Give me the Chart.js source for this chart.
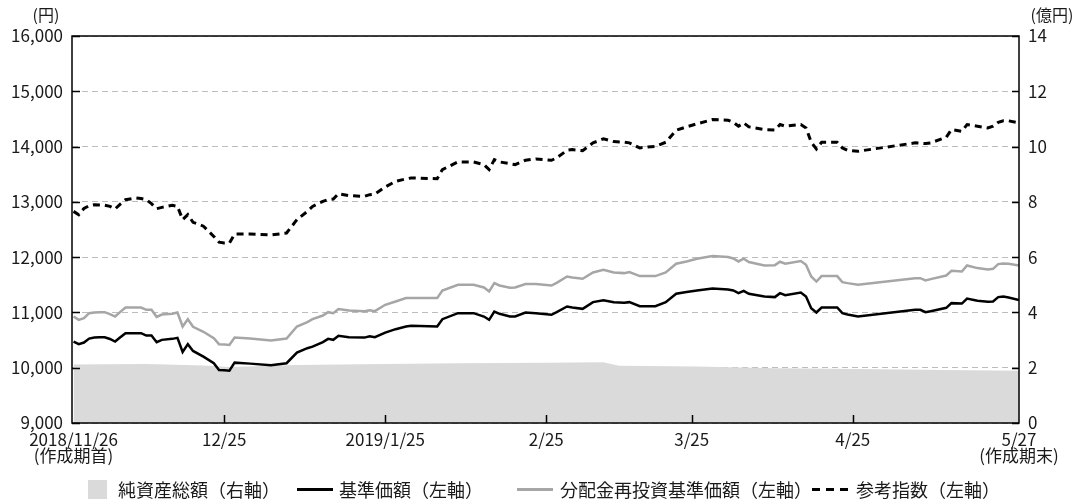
<!DOCTYPE html>
<html lang="ja">
<head>
<meta charset="utf-8">
<title>基準価額等の推移</title>
<script src="https://cdn.jsdelivr.net/npm/chart.js@4.4.1/dist/chart.umd.min.js"></script>
<style>
  html, body { margin: 0; padding: 0; background: #fff; }
  #wrap { position: relative; width: 1086px; height: 501px; }
  #chart { position: absolute; left: 0; top: 0; }
  .lg { position: absolute; font-family: "Noto Sans CJK JP", sans-serif; font-size: 18px; color: #1a1a1a; line-height: 20px; white-space: nowrap; }
  .sw { position: absolute; }
</style>
</head>
<body>
<div id="wrap">
  <canvas id="chart" width="1086" height="501"></canvas>
  <div class="sw" style="left:88px;top:480px;width:19px;height:19px;background:#dadada;"></div>
  <div class="lg" style="left:118px;top:479px;">純資産総額（右軸）</div>
  <div class="sw" style="left:297px;top:488px;width:36px;height:3px;background:#000;"></div>
  <div class="lg" style="left:339px;top:479px;">基準価額（左軸）</div>
  <div class="sw" style="left:517px;top:488px;width:36px;height:3px;background:#a6a6a6;"></div>
  <div class="lg" style="left:560px;top:479px;">分配金再投資基準価額（左軸）</div>
  <div class="sw" style="left:812px;top:488px;width:36px;height:3px;background:repeating-linear-gradient(to right,#000 0,#000 8px,transparent 8px,transparent 14px);"></div>
  <div class="lg" style="left:856px;top:479px;">参考指数（左軸）</div>
</div>
<script>
// 日付（基準価額・分配金再投資基準価額・参考指数の共通日付）
const navDates = [
  '2018-11-26','2018-11-27','2018-11-28','2018-11-29','2018-11-30','2018-12-01','2018-12-02','2018-12-03',
  '2018-12-04','2018-12-05','2018-12-06','2018-12-08','2018-12-09','2018-12-10','2018-12-11','2018-12-12',
  '2018-12-13','2018-12-15','2018-12-16','2018-12-17','2018-12-18','2018-12-19','2018-12-21','2018-12-23',
  '2018-12-24','2018-12-25','2018-12-26','2018-12-27','2018-12-30','2019-01-03','2019-01-06','2019-01-08',
  '2019-01-10','2019-01-11','2019-01-13','2019-01-14','2019-01-15','2019-01-16','2019-01-18','2019-01-21',
  '2019-01-22','2019-01-23','2019-01-25','2019-01-27','2019-01-29','2019-01-30','2019-02-04','2019-02-05',
  '2019-02-08','2019-02-11','2019-02-13','2019-02-14','2019-02-15','2019-02-16','2019-02-18','2019-02-19',
  '2019-02-21','2019-02-23','2019-02-26','2019-02-27','2019-03-01','2019-03-02','2019-03-04','2019-03-06',
  '2019-03-08','2019-03-10','2019-03-12','2019-03-13','2019-03-15','2019-03-18','2019-03-20','2019-03-22',
  '2019-03-24','2019-03-26','2019-03-29','2019-04-01','2019-04-02','2019-04-03','2019-04-04','2019-04-05',
  '2019-04-08','2019-04-10','2019-04-11','2019-04-12','2019-04-15','2019-04-16','2019-04-17','2019-04-18',
  '2019-04-19','2019-04-22','2019-04-23','2019-04-24','2019-04-26','2019-05-07','2019-05-08','2019-05-09',
  '2019-05-10','2019-05-13','2019-05-14','2019-05-16','2019-05-17','2019-05-19','2019-05-21','2019-05-22',
  '2019-05-23','2019-05-24','2019-05-25','2019-05-27'
];

// 基準価額（円）
const navValues = [
  10473,10426,10455,10527,10545,10550,10552,10520,
  10473,10550,10625,10625,10625,10582,10582,10462,
  10504,10522,10540,10286,10426,10304,10201,10081,
  9960,9955,9947,10092,10074,10045,10081,10274,
  10353,10382,10462,10522,10504,10576,10552,10545,
  10570,10552,10636,10697,10745,10757,10745,10878,
  10987,10987,10926,10866,11017,10975,10926,10926,
  10999,10987,10957,11005,11107,11089,11065,11186,
  11222,11186,11174,11186,11113,11113,11186,11337,
  11368,11397,11433,11415,11397,11349,11391,11337,
  11288,11277,11349,11313,11361,11288,11077,10999,
  11089,11089,10987,10962,10926,11047,11047,11005,
  11023,11083,11168,11161,11252,11210,11192,11197,
  11277,11288,11270,11222
];

// 分配金再投資基準価額（円）
const reinvestValues = [
  10926,10866,10897,10987,10999,11003,11005,10970,
  10926,11010,11089,11089,11089,11047,11047,10920,
  10962,10975,10999,10745,10878,10740,10650,10534,
  10426,10420,10413,10545,10527,10491,10527,10745,
  10824,10878,10944,11005,10987,11060,11035,11023,
  11041,11023,11138,11197,11259,11259,11259,11397,
  11500,11500,11451,11379,11530,11487,11446,11451,
  11513,11513,11487,11536,11650,11632,11608,11723,
  11772,11723,11711,11730,11657,11657,11723,11880,
  11922,11971,12020,12002,11976,11922,11971,11911,
  11850,11855,11917,11880,11929,11862,11650,11559,
  11657,11657,11548,11530,11500,11620,11620,11578,
  11603,11668,11753,11741,11850,11802,11777,11789,
  11874,11886,11880,11850
];

// 参考指数
const indexValues = [
  12828,12768,12880,12930,12949,12943,12940,12918,
  12871,12960,13040,13071,13060,13040,12967,12877,
  12900,12937,12918,12678,12768,12630,12560,12375,
  12270,12255,12255,12418,12418,12400,12436,12678,
  12828,12918,13009,13040,13052,13148,13112,13100,
  13130,13140,13270,13371,13415,13433,13420,13583,
  13723,13723,13674,13583,13764,13723,13690,13674,
  13752,13777,13752,13795,13933,13945,13927,14067,
  14139,14090,14078,14067,13976,14005,14078,14295,
  14357,14411,14489,14476,14440,14368,14429,14357,
  14308,14300,14398,14368,14398,14338,14078,13957,
  14078,14078,13976,13933,13915,14067,14060,14055,
  14067,14169,14308,14277,14398,14368,14338,14368,
  14440,14466,14466,14429
];

// 純資産総額（億円）
const assetDates = [
  '2018-11-26','2018-12-10','2018-12-21','2018-12-26','2019-01-08','2019-01-25','2019-02-08','2019-02-25',
  '2019-03-08','2019-03-11','2019-03-26','2019-04-10','2019-04-26','2019-05-13','2019-05-27'
];
const assetValues = [2.12, 2.13, 2.08, 2.03, 2.10, 2.13, 2.16, 2.18, 2.20, 2.07, 2.04, 1.98, 1.95, 1.92, 1.89];

// 目盛
const tickDates = ['2018-11-26','2018-12-25','2019-01-25','2019-02-25','2019-03-25','2019-04-25','2019-05-27'];
const tickLabels = [['2018/11/26', '(作成期首)'], '12/25', '2019/1/25', '2/25', '3/25', '4/25', ['5/27', '(作成期末)']];
const leftTicks = [9000, 10000, 11000, 12000, 13000, 14000, 15000, 16000];
const rightTicks = [0, 2, 4, 6, 8, 10, 12, 14];

const ORIGIN = Date.UTC(2018, 10, 26);
function dayOf(s) {
  const [y, m, d] = s.split('-').map(Number);
  return (Date.UTC(y, m - 1, d) - ORIGIN) / 86400000;
}
const toPoints = (dates, vals) => dates.map((s, i) => ({ x: dayOf(s), y: vals[i] }));

const FONT = '"Noto Sans CJK JP", sans-serif';
const TEXT = '#1a1a1a';

// 枠線・内向きの目盛線・単位表記
const framePlugin = {
  id: 'frame',
  afterDraw(chart) {
    const { ctx, chartArea: a, scales } = chart;
    ctx.save();
    ctx.strokeStyle = '#000';
    ctx.lineWidth = 1.5;
    ctx.strokeRect(a.left, a.top, a.right - a.left, a.bottom - a.top);
    ctx.beginPath();
    scales.yL.ticks.forEach(t => {
      const y = Math.round(scales.yL.getPixelForValue(t.value)) + 0.5;
      ctx.moveTo(a.left, y); ctx.lineTo(a.left + 8, y);
    });
    scales.yR.ticks.forEach(t => {
      const y = Math.round(scales.yR.getPixelForValue(t.value)) + 0.5;
      ctx.moveTo(a.right, y); ctx.lineTo(a.right - 7, y);
    });
    const xt = scales.x.ticks;
    xt.forEach((t, i) => {
      if (i === 0 || i === xt.length - 1) return;
      const x = Math.round(scales.x.getPixelForValue(t.value)) + 0.5;
      ctx.moveTo(x, a.bottom); ctx.lineTo(x, a.bottom - 8);
    });
    ctx.stroke();
    ctx.fillStyle = TEXT;
    ctx.font = '16px ' + FONT;
    ctx.textAlign = 'center';
    ctx.textBaseline = 'middle';
    ctx.fillText('(円)', a.left - 26, a.top - 21);
    ctx.fillText('(億円)', a.right + 33, a.top - 21);
    ctx.restore();
  }
};

new Chart(document.getElementById('chart'), {
  type: 'line',
  data: {
    datasets: [
      {
        label: '純資産総額（右軸）',
        data: toPoints(assetDates, assetValues),
        yAxisID: 'yR',
        fill: 'origin',
        backgroundColor: '#dadada',
        borderWidth: 0,
        pointRadius: 0,
        tension: 0,
        order: 4
      },
      {
        label: '分配金再投資基準価額（左軸）',
        data: toPoints(navDates, reinvestValues),
        yAxisID: 'yL',
        borderColor: '#a6a6a6',
        borderWidth: 2.5,
        pointRadius: 0,
        tension: 0,
        fill: false,
        order: 3
      },
      {
        label: '基準価額（左軸）',
        data: toPoints(navDates, navValues),
        yAxisID: 'yL',
        borderColor: '#000',
        borderWidth: 2.5,
        pointRadius: 0,
        tension: 0,
        fill: false,
        order: 2
      },
      {
        label: '参考指数（左軸）',
        data: toPoints(navDates, indexValues),
        yAxisID: 'yL',
        borderColor: '#000',
        borderWidth: 3,
        borderDash: [7, 5],
        pointRadius: 0,
        tension: 0,
        fill: false,
        order: 1
      }
    ]
  },
  options: {
    responsive: false,
    animation: false,
    events: [],
    layout: { padding: { top: 36, left: 0, right: 0, bottom: 0 } },
    plugins: { legend: { display: false }, tooltip: { enabled: false } },
    scales: {
      x: {
        type: 'linear',
        min: -0.3,
        max: 182,
        afterBuildTicks: s => { s.ticks = tickDates.map(d => ({ value: dayOf(d) })); },
        afterFit: s => { s.height = 78; },
        ticks: {
          autoSkip: false,
          maxRotation: 0,
          padding: 8,
          color: TEXT,
          font: { family: FONT, size: 17, lineHeight: 0.95 },
          callback: (v, i) => tickLabels[i]
        },
        grid: { display: false, drawTicks: false },
        border: { display: false }
      },
      yL: {
        position: 'left',
        min: 9000,
        max: 16000,
        afterBuildTicks: s => { s.ticks = leftTicks.map(v => ({ value: v })); },
        afterFit: s => { s.width = 72; },
        ticks: {
          padding: 9,
          color: TEXT,
          font: { family: FONT, size: 17 },
          callback: v => v.toLocaleString('en-US')
        },
        grid: { color: '#bdbdbd', lineWidth: 1, drawTicks: false },
        border: { display: false, dash: [6, 4] }
      },
      yR: {
        position: 'right',
        min: 0,
        max: 14,
        afterBuildTicks: s => { s.ticks = rightTicks.map(v => ({ value: v })); },
        afterFit: s => { s.width = 67; },
        ticks: {
          padding: 9,
          color: TEXT,
          font: { family: FONT, size: 17 }
        },
        grid: { display: false, drawTicks: false },
        border: { display: false }
      }
    }
  },
  plugins: [framePlugin]
});
</script>
</body>
</html>
